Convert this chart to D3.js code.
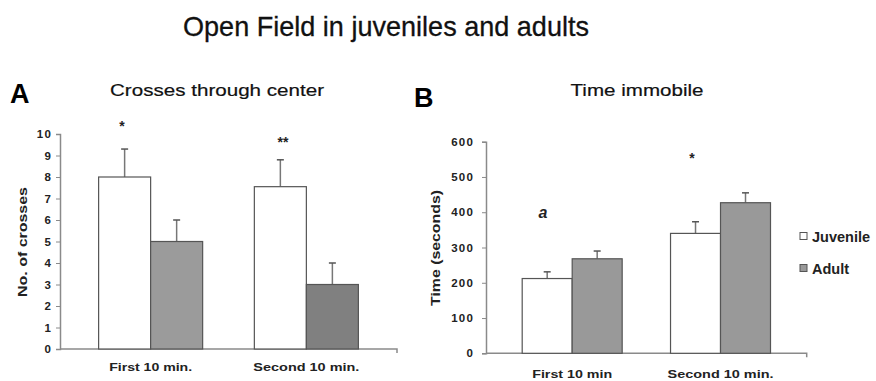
<!DOCTYPE html>
<html>
<head>
<meta charset="utf-8">
<script src="https://cdn.jsdelivr.net/npm/d3@7"></script>
<style>
  html, body { margin: 0; padding: 0; background: #fff; }
  svg { display: block; font-family: "Liberation Sans", Arial, sans-serif; }
</style>
</head>
<body>
<svg id="chart" width="876" height="381"></svg>
<script>
// Open field test: juveniles vs adults, two 10-minute periods
const periodsA = ["First 10 min.", "Second 10 min."];
const periodsB = ["First 10 min", "Second 10 min."];
const groups = ["Juvenile", "Adult"];

// Panel A: crosses through center (mean, SEM)
const crossesJuvenile = [8, 7.55];
const crossesJuvenileErr = [1.3, 1.25];
const crossesAdult = [5, 3];
const crossesAdultErr = [1, 1];
const crossesTicks = [0, 1, 2, 3, 4, 5, 6, 7, 8, 9, 10];
const crossesMarks = ["*", "**"];

// Panel B: time immobile in seconds (mean, SEM)
const immobileJuvenile = [212, 340];
const immobileJuvenileErr = [19, 33];
const immobileAdult = [268, 427];
const immobileAdultErr = [22, 28];
const immobileTicks = [0, 100, 200, 300, 400, 500, 600];
const immobileMarks = ["a", "*"];

const svg = d3.select("#chart");
const axisColor = "#8a8a8a";
const barStroke = "#555";
const errColor = "#777";

svg.append("text")
  .attr("x", 386).attr("y", 36)
  .attr("text-anchor", "middle")
  .attr("font-size", 28)
  .attr("fill", "#111")
  .attr("stroke", "#111").attr("stroke-width", 0.3)
  .attr("textLength", 406).attr("lengthAdjust", "spacingAndGlyphs")
  .text("Open Field in juveniles and adults");

function panel(cfg) {
  const g = svg.append("g");
  const y = d3.scaleLinear().domain(cfg.domain).range([cfg.bottom, cfg.top]);
  const x0 = d3.scaleBand().domain(cfg.periods).range([cfg.left, cfg.right])
    .paddingInner(cfg.pi).paddingOuter(cfg.po);
  const x1 = d3.scaleBand().domain(groups).range([0, x0.bandwidth()]).padding(0);

  // letter and title
  g.append("text").attr("x", cfg.letterX).attr("y", cfg.letterY)
    .attr("font-size", 27).attr("font-weight", "bold").attr("fill", "#000")
    .text(cfg.letter);
  g.append("text").attr("x", cfg.titleX).attr("y", cfg.titleY)
    .attr("text-anchor", "middle").attr("font-size", 17).attr("fill", "#111")
    .attr("stroke", "#111").attr("stroke-width", 0.2)
    .attr("textLength", cfg.titleLen).attr("lengthAdjust", "spacingAndGlyphs")
    .text(cfg.title);

  // y axis
  const yAxis = d3.axisLeft(y).tickValues(cfg.ticks).tickSize(4).tickPadding(cfg.tickPad)
    .tickFormat(d3.format("d"));
  const ya = g.append("g").attr("transform", `translate(${cfg.left},0)`).call(yAxis);
  ya.select(".domain").attr("stroke", axisColor).attr("stroke-width", 1.5);
  ya.selectAll(".tick line").attr("stroke", axisColor);
  ya.selectAll(".tick text").attr("font-size", 11.5).attr("font-weight", "bold")
    .attr("fill", "#222").attr("font-family", "'Liberation Sans', Arial, sans-serif")
    .attr("letter-spacing", 1.2);

  // x axis
  const xAxis = d3.axisBottom(x0).tickSize(0).tickPadding(12);
  const xa = g.append("g").attr("transform", `translate(0,${cfg.bottom})`).call(xAxis);
  xa.select(".domain").attr("stroke", axisColor).attr("stroke-width", 1.5)
    .attr("d", `M${cfg.left},0H${cfg.right}V4`);
  xa.selectAll(".tick text").attr("font-size", 11).attr("font-weight", "bold")
    .attr("fill", "#222").attr("font-family", "'Liberation Sans', Arial, sans-serif")
    .attr("dy", cfg.xLabelDy)
    .attr("textLength", (d, i) => cfg.xLabelLen[i]).attr("lengthAdjust", "spacingAndGlyphs");

  // y title
  g.append("text")
    .attr("transform", `translate(${cfg.yTitleX},${cfg.yTitleY}) rotate(-90)`)
    .attr("text-anchor", "middle").attr("font-size", 13.5).attr("font-weight", "bold")
    .attr("fill", "#222")
    .attr("textLength", cfg.yTitleLen).attr("lengthAdjust", "spacingAndGlyphs")
    .text(cfg.yTitle);

  const rows = [];
  cfg.periods.forEach((p, i) => {
    rows.push({ period: p, group: "Juvenile", value: cfg.juv[i], err: cfg.juvErr[i], fill: "#fff" });
    rows.push({ period: p, group: "Adult", value: cfg.adult[i], err: cfg.adultErr[i], fill: cfg.adultFill[i] });
  });

  // error bars (upper only) behind bars
  const eb = g.selectAll(".err").data(rows).enter().append("g");
  eb.append("line")
    .attr("x1", d => x0(d.period) + x1(d.group) + x1.bandwidth() / 2)
    .attr("x2", d => x0(d.period) + x1(d.group) + x1.bandwidth() / 2)
    .attr("y1", d => y(d.value)).attr("y2", d => y(d.value + d.err))
    .attr("stroke", errColor).attr("stroke-width", 1.5);
  eb.append("line")
    .attr("x1", d => x0(d.period) + x1(d.group) + x1.bandwidth() / 2 - 3.5)
    .attr("x2", d => x0(d.period) + x1(d.group) + x1.bandwidth() / 2 + 3.5)
    .attr("y1", d => y(d.value + d.err)).attr("y2", d => y(d.value + d.err))
    .attr("stroke", "#555").attr("stroke-width", 1.5);

  g.selectAll(".bar").data(rows).enter().append("rect")
    .attr("x", d => x0(d.period) + x1(d.group))
    .attr("y", d => y(d.value))
    .attr("width", x1.bandwidth())
    .attr("height", d => cfg.bottom - y(d.value))
    .attr("fill", d => d.fill)
    .attr("stroke", barStroke).attr("stroke-width", 1.2);

  // significance marks
  cfg.marks.forEach((m, i) => {
    g.append("text").attr("x", cfg.markX[i]).attr("y", cfg.markY[i])
      .attr("text-anchor", "middle")
      .attr("font-size", m.font).attr("font-weight", "bold")
      .attr("font-style", m.italic ? "italic" : "normal")
      .attr("fill", "#222").text(m.text);
  });
  return { x0, x1, y };
}

panel({
  letter: "A", letterX: 10, letterY: 103,
  title: "Crosses through center", titleX: 217, titleY: 96, titleLen: 214,
  domain: [0, 10], ticks: crossesTicks, top: 134, bottom: 349,
  left: 60, right: 397, pi: 0.332, po: 0.248, tickPad: 4,
  periods: periodsA, xLabelDy: "0.9em", xLabelLen: [83, 106],
  yTitle: "No. of crosses", yTitleX: 27, yTitleY: 242, yTitleLen: 110,
  juv: crossesJuvenile, juvErr: crossesJuvenileErr,
  adult: crossesAdult, adultErr: crossesAdultErr, adultFill: ["#9b9b9b", "#808080"],
  marks: crossesMarks.map(t => ({ text: t, font: 14 })),
  markX: [122, 283], markY: [131, 147]
});

panel({
  letter: "B", letterX: 414, letterY: 107,
  title: "Time immobile", titleX: 637, titleY: 96, titleLen: 133,
  domain: [0, 600], ticks: immobileTicks, top: 141.7, bottom: 353.3,
  left: 486, right: 806.7, pi: 0.326, po: 0.244, tickPad: 8,
  periods: periodsB, xLabelDy: "1.2em", xLabelLen: [80, 106],
  yTitle: "Time (seconds)", yTitleX: 440, yTitleY: 248, yTitleLen: 116,
  juv: immobileJuvenile, juvErr: immobileJuvenileErr,
  adult: immobileAdult, adultErr: immobileAdultErr, adultFill: ["#999", "#999"],
  marks: [{ text: immobileMarks[0], font: 16, italic: true }, { text: immobileMarks[1], font: 14 }],
  markX: [543, 692], markY: [218, 163]
});

// legend
const legend = svg.append("g");
const legendFill = ["#fff", "#999"];
groups.forEach((name, i) => {
  const cy = 236 + i * 32;
  legend.append("rect").attr("x", 800).attr("y", cy - 3.5).attr("width", 7).attr("height", 7)
    .attr("fill", legendFill[i]).attr("stroke", "#555").attr("stroke-width", 1);
  legend.append("text").attr("x", 812).attr("y", cy + 5.5)
    .attr("font-size", 14.5).attr("font-weight", "bold").attr("fill", "#222").text(name);
});
</script>
</body>
</html>
